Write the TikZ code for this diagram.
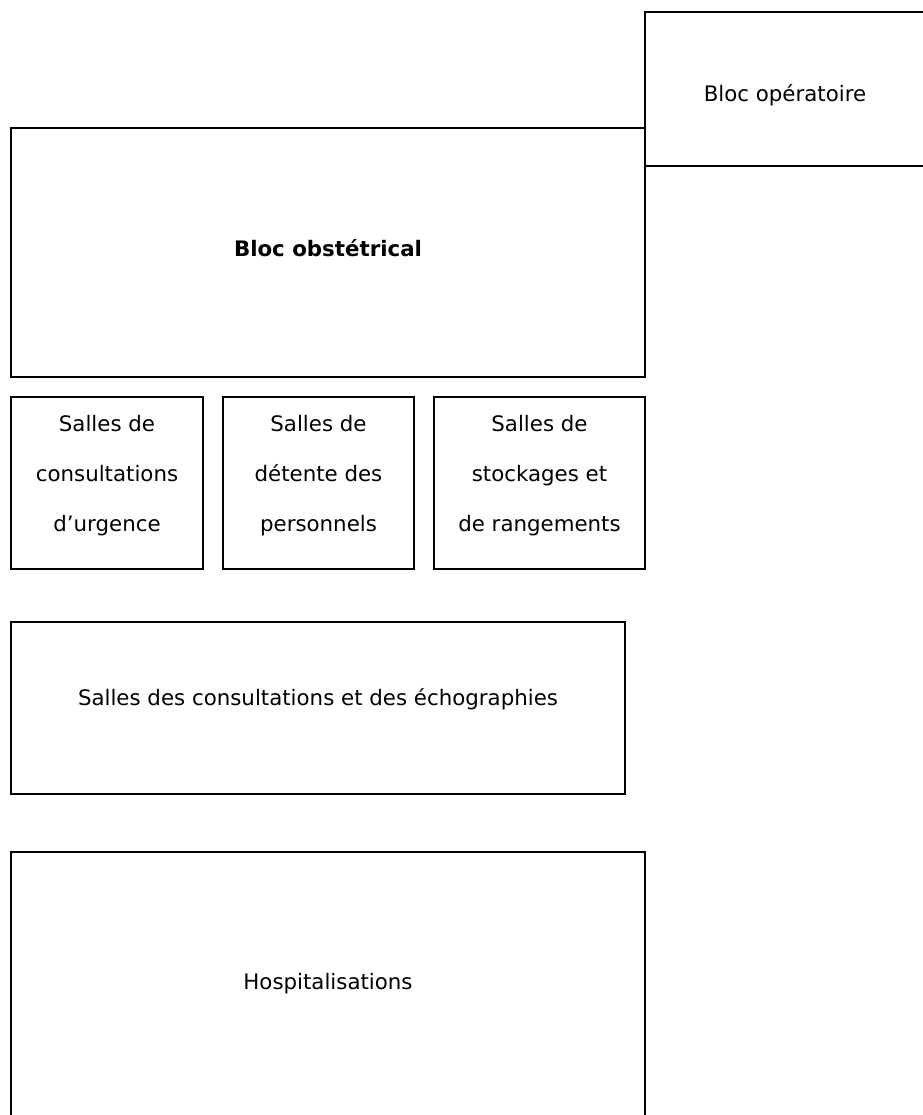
\documentclass[tikz,border=0pt]{standalone}
\usepackage{fontspec}
\setmainfont{DejaVu Sans}
\tikzset{
  room/.style={draw=black, line width=1.5pt, rectangle, inner sep=0pt},
  label1/.style={font=\fontsize{16}{19}\selectfont, inner sep=0pt},
  label3/.style={align=center, font=\fontsize{16}{37.5}\selectfont, inner sep=0pt},
}
\begin{document}
\begin{tikzpicture}[x=0.75pt,y=-0.75pt]
\useasboundingbox (0,0) rectangle (923,1115);
\clip (0,0) rectangle (923,1115);
% Bloc operatoire (645,12)-(925,166)
\node[room, minimum width=210pt, minimum height=115.5pt] (bo) at (785,89) {};
\node[label1] (bot) at (785,95) {Bloc opératoire};
% Bloc obstetrical (11,128)-(645,377)
\node[room, minimum width=475.5pt, minimum height=186.75pt] (obst) at (328,252.5) {};
\node[label1, font=\bfseries\fontsize{16}{19}\selectfont] (obstt) at (328,248) {Bloc obstétrical};
% small rooms (397 - 569)
\node[room, minimum width=144pt, minimum height=129pt] (c1) at (107,483) {};
\node[room, minimum width=143.25pt, minimum height=129pt] (c2) at (318.5,483) {};
\node[room, minimum width=158.25pt, minimum height=129pt] (c3) at (539.5,483) {};
\node[label3] (c1t) at (107,476) {Salles de\\consultations\\d’urgence};
\node[label3] (c2t) at (318.5,476) {Salles de\\détente des\\personnels};
\node[label3] (c3t) at (539.5,476) {Salles de\\stockages et\\de rangements};
% Salles des consultations (11,622)-(625,794)
\node[room, minimum width=460.5pt, minimum height=129pt] (sc) at (318,708) {};
\node[label1] (sct) at (318,699) {Salles des consultations et des échographies};
% Hospitalisations (11,852)-(645,1135)
\node[room, minimum width=475.5pt, minimum height=212.25pt] (hosp) at (328,993.5) {};
\node[label1] (hospt) at (328,984) {Hospitalisations};
\end{tikzpicture}
\end{document}
